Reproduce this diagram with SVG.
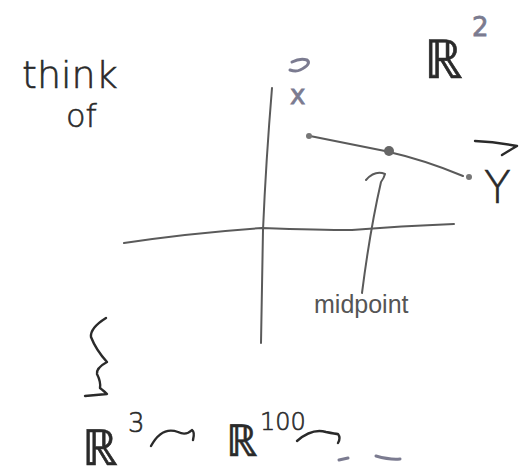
<svg xmlns="http://www.w3.org/2000/svg" width="531" height="476" viewBox="0 0 531 476">
<style>
.ink{fill:none;stroke:#2a2a2a;stroke-width:2.4;stroke-linecap:round;stroke-linejoin:round}
.pencil{fill:none;stroke:#5a5a5a;stroke-width:2;stroke-linecap:round;stroke-linejoin:round}
.blue{fill:none;stroke:#7b7b90;stroke-width:3;stroke-linecap:round;stroke-linejoin:round}
.t{font-family:"DejaVu Sans","Liberation Sans",sans-serif;fill:#2a2a2a;stroke:#2a2a2a;stroke-width:0.6}
.tb{font-family:"DejaVu Sans","Liberation Sans",sans-serif;fill:#7b7b90;stroke:#7b7b90;stroke-width:0.8}
.tp{font-family:"Liberation Sans",sans-serif;fill:#555}
</style>
<rect width="531" height="476" fill="#fff"/>
<g id="title">
<text class="t" x="22" y="88" font-size="38" font-weight="300">think</text>
<text class="t" x="66" y="127" font-size="32" font-weight="300">of</text>
</g>
<g id="r2">
<text class="t" x="424" y="78" font-size="54" font-weight="300">ℝ</text>
<text class="tb" x="472" y="36" font-size="26">2</text>
</g>
<g id="axes">
<path class="pencil" d="M272 88 Q266 160 263 230 L261 343"/>
<path class="pencil" d="M124 243 Q190 233 262 228 Q320 230 352 230 Q400 226 454 224"/>
</g>
<g id="segment">
<path class="pencil" d="M310 136 Q345 143 385 151 Q425 160 463 176"/>
<circle cx="309" cy="136" r="3" fill="#777"/>
<circle cx="389" cy="151" r="5" fill="#666"/>
<circle cx="469" cy="177" r="3" fill="#777"/>
</g>
<g id="xvec">
<path class="blue" d="M292 62 Q300 58 307 60 Q312 64 300 70 Q296 72 290 70"/>
<text class="tb" x="290" y="104" font-size="26">x</text>
</g>
<g id="yvec">
<path class="ink" d="M475 141 Q496 142 517 146 Q510 150 502 155"/>
<text class="t" x="484" y="203" font-size="44" font-weight="300">Y</text>
</g>
<g id="midpoint">
<path class="pencil" d="M366 180 Q375 170 385 174 Q384 178 381 182 Q370 230 362 293"/>
<text class="tp" x="314" y="313" font-size="25">midpoint</text>
</g>
<g id="brace">
<path class="ink" d="M106 318 Q90 328 91 337 Q96 350 107 362 Q96 368 97 374 Q101 382 100 388 Q105 392 107 394 L85 396"/>
</g>
<g id="dims">
<text class="t" x="82" y="465" font-size="50" font-weight="300">ℝ</text>
<text class="t" x="128" y="432" font-size="26" font-weight="300">3</text>
<path class="ink" d="M151 446 Q162 426 178 432 Q186 436 192 430 Q195 432 193 440"/>
<text class="t" x="226" y="456" font-size="44" font-weight="300">ℝ</text>
<text class="t" x="260" y="430" font-size="24" font-weight="300">100</text>
<path class="ink" d="M297 441 Q312 428 326 432 Q336 434 338 434 Q341 438 338 443"/>
<path class="blue" d="M339 460 L348 458"/>
<path class="blue" d="M376 456 Q390 460 400 459"/>
</g>
</svg>
